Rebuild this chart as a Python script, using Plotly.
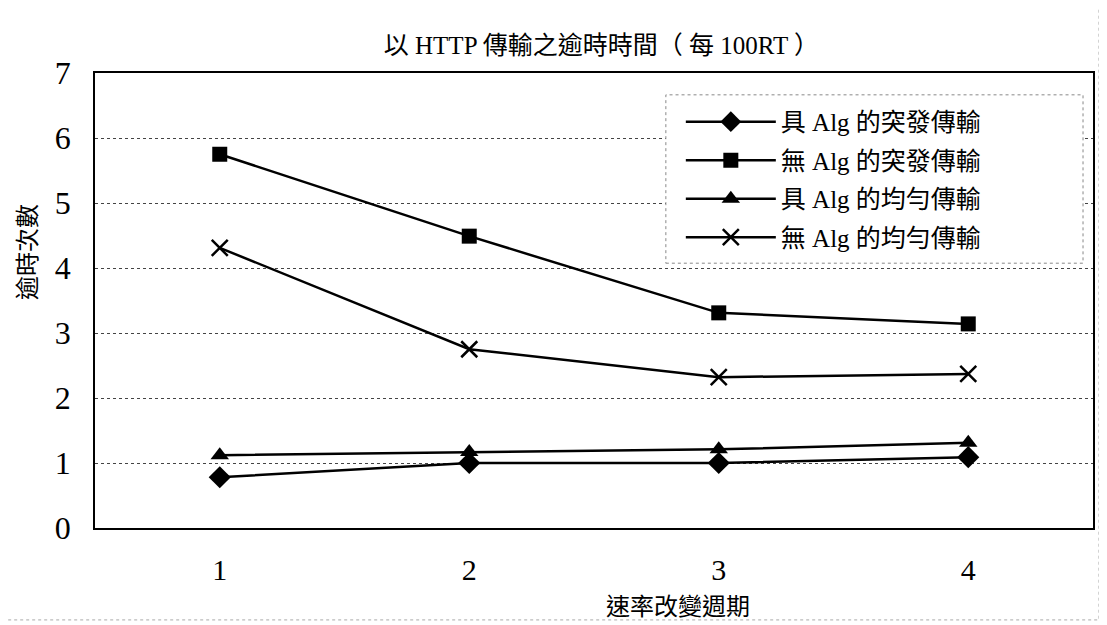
import plotly.graph_objects as go

periods = [1, 2, 3, 4]
series_names = ["具 Alg 的突發傳輸", "無 Alg 的突發傳輸", "具 Alg 的均勻傳輸", "無 Alg 的均勻傳輸"]
burst_with_alg = [0.78, 1.0, 1.0, 1.09]
burst_without_alg = [5.75, 4.49, 3.31, 3.14]
uniform_with_alg = [1.12, 1.17, 1.21, 1.31]
uniform_without_alg = [4.31, 2.75, 2.32, 2.37]
y_ticks = [0, 1, 2, 3, 4, 5, 6, 7]

FONT = "Liberation Serif, Times New Roman, Noto Sans CJK TC, serif"

fig = go.Figure()
specs = [
    (burst_with_alg, "diamond", 17, 0),
    (burst_without_alg, "square", 15, 0),
    (uniform_with_alg, "triangle-up", 16, 0),
    (uniform_without_alg, "x-thin", 16, 2.5),
]
for i, (name, (vals, sym, size, lw)) in enumerate(zip(series_names, specs)):
    fig.add_trace(go.Scatter(
        x=periods, y=vals, name=name, mode="lines+markers", legendgroup=f"g{i}",
        line=dict(color="black", width=2.5),
        marker=dict(symbol=sym, size=size, color="black",
                    line=dict(color="black", width=lw)),
    ))

fig.update_layout(
    width=1099, height=617,
    margin=dict(l=87, r=12, t=65, b=97),
    paper_bgcolor="white", plot_bgcolor="white",
    font=dict(family=FONT, color="black"),
    title=dict(text="以 HTTP 傳輸之逾時時間（ 每 100RT ）", x=0.54, xanchor="center",
               y=0.94, yanchor="middle", font=dict(size=25, family=FONT)),
    showlegend=True,
    legend=dict(x=0.587, y=0.943, xanchor="left", yanchor="top",
                bgcolor="rgba(0,0,0,0)", borderwidth=0,
                font=dict(size=25, family=FONT), itemwidth=90,
                tracegroupgap=3),
    xaxis=dict(range=[0.5, 4.5], tickvals=periods, ticktext=[str(p) for p in periods],
               showgrid=False, zeroline=False, showline=True, linecolor="black",
               linewidth=1.5, mirror=True, ticks="", tickfont=dict(size=30),
               ticklabelstandoff=14),
    yaxis=dict(range=[0, 7], tickvals=y_ticks, showgrid=True, gridcolor="#444444",
               griddash="dot", gridwidth=1, zeroline=False, showline=True,
               linecolor="black", linewidth=1.5, mirror=True, ticks="",
               tickfont=dict(size=32), ticklabelstandoff=16),
    annotations=[
        dict(text="速率改變週期", xref="paper", yref="paper", x=0.584, y=-0.174,
             xanchor="center", yanchor="middle", showarrow=False,
             font=dict(size=24, family=FONT)),
        dict(text="逾時次數", xref="paper", yref="paper", x=-0.067, y=0.607,
             xanchor="center", yanchor="middle", showarrow=False, textangle=-90,
             font=dict(size=24, family=FONT)),
    ],
)
fig.add_shape(type="rect", xref="paper", yref="paper",
              x0=0.572, x1=0.99, y0=0.582, y1=0.952,
              fillcolor="white", line=dict(color="#888888", width=1, dash="dot"),
              layer="above")
fig.add_shape(type="rect", xref="paper", yref="paper",
              x0=-0.093, x1=1.006, y0=-0.202, y1=1.156,
              line=dict(color="#aaaaaa", width=1, dash="dot"), layer="below")

fig.write_html("out.html")
